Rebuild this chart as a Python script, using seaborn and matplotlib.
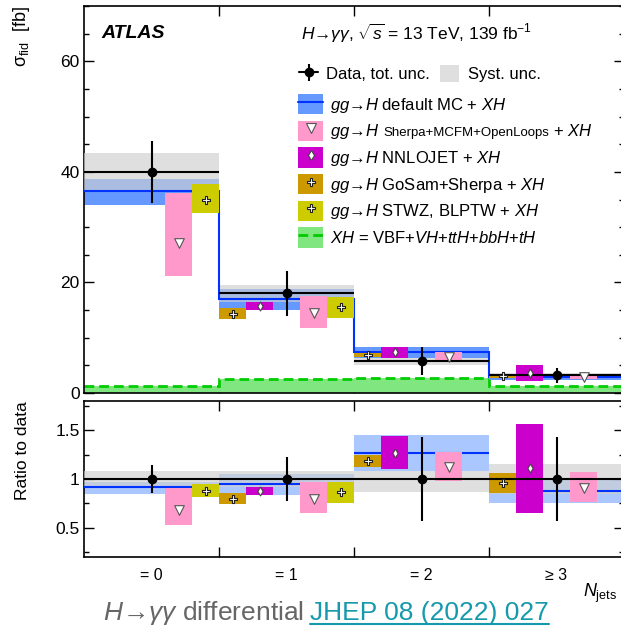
import numpy as np
import matplotlib
matplotlib.use("Agg")
import matplotlib.pyplot as plt
import seaborn as sns
from matplotlib.patches import Patch
from matplotlib.lines import Line2D
from matplotlib.ticker import MultipleLocator, FixedLocator, FuncFormatter, NullLocator

nan = np.nan
# ---------------- data ----------------
categories = ["= 0", "= 1", "= 2", "\u2265 3"]
data_xs = [40.0, 18.0, 5.8, 3.2]
data_tot_unc = [5.6, 4.0, 2.5, 1.38]
syst_up = [3.4, 1.45, 0.5, 0.5]
syst_dn = [3.4, 1.45, 0.8, 0.5]
mc_default = [36.6, 17.0, 7.37, 2.82]
mc_default_lo = [34.0, 15.1, 6.3, 2.4]
mc_default_hi = [38.7, 18.9, 8.4, 3.2]
sherpa = [27.2, 14.4, 6.5, 2.9]
sherpa_lo = [21.2, 11.8, 5.7, 2.46]
sherpa_hi = [36.2, 17.5, 7.4, 3.44]
nnlojet = [nan, 15.8, 7.37, 3.55]
nnlojet_lo = [nan, 15.1, 6.38, 2.1]
nnlojet_hi = [nan, 16.5, 8.35, 5.0]
gosam = [nan, 14.3, 6.85, 3.06]
gosam_lo = [nan, 13.4, 6.5, 2.75]
gosam_hi = [nan, 15.4, 7.2, 3.4]
stwz = [35.0, 15.6, nan, nan]
stwz_lo = [32.5, 13.5, nan, nan]
stwz_hi = [37.8, 17.4, nan, nan]
xh = [1.3, 2.5, 2.65, 1.26]

# ---------------- style ----------------
sns.set_theme(style="ticks")
plt.rcParams.update({
    "font.family": ["Liberation Sans", "DejaVu Sans"],
    "mathtext.fontset": "custom",
    "mathtext.rm": "Liberation Sans",
    "mathtext.it": "Liberation Sans:italic",
    "mathtext.bf": "Liberation Sans:bold",
    "mathtext.sf": "Liberation Sans",
    "axes.edgecolor": "black",
    "axes.linewidth": 1.0,
    "xtick.color": "black", "ytick.color": "black",
    "text.color": "black", "axes.labelcolor": "black",
})

BLUE_BAND = "#6699FF"; BLUE_LINE = "#0033FF"; GRAY = "#CFCFCF"
PINK = "#FF99CC"; MAGENTA = "#CC00CC"; GOLD = "#CC9900"; OLIVE = "#CCCC00"
GREEN_FILL = "#80E680"; GREEN_LINE = "#00CC00"; TEAL = "#169AAB"

W, H = 621, 626
fig = plt.figure(figsize=(W / 100, H / 100), dpi=100)
fig.patch.set_facecolor("white")
ax1 = fig.add_axes([84 / W, 233 / H, 540 / W, 387 / H])
ax2 = fig.add_axes([84 / W, 69 / H, 540 / W, 156 / H])

edges = np.arange(5)
centers = edges[:-1] + 0.5
data = np.array(data_xs)

PRED_SPECS = [
    (gosam, gosam_lo, gosam_hi, 0.1, GOLD, "P", 32, "#222222"),
    (nnlojet, nnlojet_lo, nnlojet_hi, 0.3, MAGENTA, "d", 20, "#444444"),
    (sherpa, sherpa_lo, sherpa_hi, 0.7, PINK, "v", 48, "#555555"),
    (stwz, stwz_lo, stwz_hi, 0.9, OLIVE, "P", 32, "#222222"),
]


def draw_preds(ax, scale):
    for vals, lo, hi, off, col, mk, ms, ec in PRED_SPECS:
        v = np.array(vals) / scale
        l = np.array(lo) / scale
        h = np.array(hi) / scale
        ok = ~np.isnan(v)
        x = edges[:-1][ok] + off
        ax.bar(x, (h - l)[ok], bottom=l[ok], width=0.2, color=col, lw=0, zorder=5)
        sns.scatterplot(x=x, y=v[ok], marker=mk, s=ms, color="white", edgecolor=ec,
                        linewidth=0.8, ax=ax, zorder=8, legend=False)


# ---------------- top panel ----------------
ax1.stairs(xh, edges, fill=True, color=GREEN_FILL, baseline=0, zorder=1)
ax1.stairs(xh, edges, baseline=None, color=GREEN_LINE, lw=2,
           linestyle=(0, (3.5, 1.8)), zorder=1.5)
lo = np.array(mc_default_lo); hi = np.array(mc_default_hi)
ax1.bar(centers, hi - lo, bottom=lo, width=1.0, color=BLUE_BAND, lw=0, zorder=2)
sup = np.array(syst_up); sdn = np.array(syst_dn)
ax1.bar(centers, sup + sdn, bottom=data - sdn, width=1.0, color=GRAY, alpha=0.65, lw=0, zorder=3)
ax1.stairs(mc_default, edges, baseline=None, color=BLUE_LINE, lw=1.5, zorder=4)
draw_preds(ax1, 1.0)
ax1.hlines(data, edges[:-1], edges[1:], color="black", lw=1.5, zorder=6)
eb = ax1.errorbar(centers, data, yerr=data_tot_unc, fmt="o", color="black", ms=6,
                  elinewidth=1.5, capsize=0, zorder=7)

ax1.set_xlim(0, 4)
ax1.set_ylim(0, 70)

# ---------------- ratio panel ----------------
ax2.bar(centers, (hi - lo) / data, bottom=lo / data, width=1.0, color=BLUE_BAND, alpha=0.55, lw=0, zorder=2)
ax2.bar(centers, (sup + sdn) / data, bottom=1 - sdn / data, width=1.0, color=GRAY, alpha=0.65, lw=0, zorder=3)
ax2.hlines(np.array(mc_default) / data, edges[:-1], edges[1:], color=BLUE_LINE, lw=1.5, zorder=4)
draw_preds(ax2, data)
ax2.hlines(1.0, 0, 4, color="black", lw=1.5, zorder=6)
ax2.errorbar(centers, np.ones(4), yerr=np.array(data_tot_unc) / data, fmt="o", color="black",
             ms=6, elinewidth=1.5, capsize=0, zorder=7)
ax2.set_xlim(0, 4)
ax2.set_ylim(0.2, 1.8)

# ---------------- axes / ticks ----------------
for ax in (ax1, ax2):
    ax.set_facecolor("white")
    ax.set_xticks([1, 2, 3])
    ax.set_xticklabels([])
    ax.tick_params(which="both", direction="in", top=True, right=True, width=1)
    ax.tick_params(which="major", length=7)
    ax.tick_params(which="minor", length=3.5)
    ax.tick_params(axis="y", labelsize=12.5, pad=3)
    for s in ax.spines.values():
        s.set_linewidth(1.2)
        s.set_color("black")
    ax.set_xlabel("")

ax1.xaxis.set_minor_locator(NullLocator())
ax1.yaxis.set_major_locator(FixedLocator([0, 20, 40, 60]))
ax1.yaxis.set_minor_locator(MultipleLocator(5))
ax2.yaxis.set_major_locator(FixedLocator([0.5, 1.0, 1.5]))
ax2.yaxis.set_minor_locator(MultipleLocator(0.25))
ax2.yaxis.set_major_formatter(FuncFormatter(lambda v, p: f"{v:g}"))
ax2.set_xticks(centers, minor=True)
ax2.set_xticklabels(categories, minor=True)
ax2.tick_params(axis="x", which="minor", length=0, labelsize=11.5, pad=8)

ax1.set_ylabel(r"$\mathrm{\sigma_{fid}}$  [fb]", loc="top", fontsize=13)
ax1.yaxis.set_label_coords(-0.096, 1.0)
ax2.set_ylabel("Ratio to data", loc="top", fontsize=12.5)
ax2.yaxis.set_label_coords(-0.10, 1.0)

ax1.text(0.033, 0.930, "ATLAS", fontsize=14, fontweight="bold", fontstyle="italic",
         va="center", transform=ax1.transAxes)
ax1.text(0.402, 0.930, r"$H$→$\gamma\gamma$, $\sqrt{s}$ = 13 TeV, 139 fb$^{-1}$",
         fontsize=12.5, va="center", transform=ax1.transAxes)

# ---------------- legends ----------------
h_data = (Line2D([], [], color="black", lw=1.5), eb)
h_syst = Patch(facecolor=GRAY, alpha=0.65, lw=0)
leg1 = ax1.legend([h_data, h_syst], ["Data, tot. unc.", "Syst. unc."], ncol=2,
                  loc="upper left", bbox_to_anchor=(299 / W, 1 - 65.5 / H),
                  bbox_transform=fig.transFigure, frameon=False, fontsize=12,
                  handlelength=1.15, handleheight=1.15, handletextpad=0.5,
                  columnspacing=0.6, borderpad=0, borderaxespad=0)
ax1.add_artist(leg1)


def ph(col, mk, ec, ms):
    return (Patch(facecolor=col, lw=0),
            Line2D([], [], marker=mk, ls="none", mfc="white", mec=ec, ms=ms, mew=0.8))


handles = [
    (Patch(facecolor=BLUE_BAND, lw=0), Line2D([], [], color=BLUE_LINE, lw=1.5)),
    ph(PINK, "v", "#555555", 6.5),
    ph(MAGENTA, "d", "#444444", 5),
    ph(GOLD, "P", "#222222", 5.5),
    ph(OLIVE, "P", "#222222", 5.5),
    (Patch(facecolor=GREEN_FILL, lw=0), Line2D([], [], color=GREEN_LINE, lw=2, linestyle=(0, (3.5, 1.8)))),
]
labels = [
    r"$gg$→$H$ default MC + $XH$",
    r"$gg$→$H$",
    r"$gg$→$H$ NNLOJET + $XH$",
    r"$gg$→$H$ GoSam+Sherpa + $XH$",
    r"$gg$→$H$ STWZ, BLPTW + $XH$",
    r"$XH$ = VBF+$VH$+$ttH$+$bbH$+$tH$",
]
leg2 = ax1.legend(handles, labels, loc="upper left", bbox_to_anchor=(298 / W, 1 - 94 / H),
                  bbox_transform=fig.transFigure, frameon=False, fontsize=12,
                  handlelength=1.5, handleheight=1.5, labelspacing=0.36,
                  handletextpad=0.42, borderpad=0, borderaxespad=0)

# ---------------- figure texts ----------------
fig.text(617 / W, 1 - 593 / H, r"$N_{\mathrm{jets}}$", ha="right", va="center", fontsize=13)
t1 = fig.text(103 / W, 1 - 620 / H, r"$H$→$\gamma\gamma$ differential",
              color="#666666", fontsize=19, va="baseline")

fig.canvas.draw()
r = fig.canvas.get_renderer()

# Sherpa label: smaller middle part
st = leg2.get_texts()[1]
bb = st.get_window_extent(r)
w_, h_, d_ = r.get_text_width_height_descent(st.get_text(), st.get_fontproperties(), ismath=True)
base = bb.y0 + d_
x = bb.x1 + 4
t_s = fig.text(x / W, base / H, "Sherpa+MCFM+OpenLoops", fontsize=9.5, va="baseline")
fig.canvas.draw()
bb2 = t_s.get_window_extent(r)
fig.text((bb2.x1 + 4) / W, base / H, r"+ $XH$", fontsize=12, va="baseline")

# bottom link
bb1 = t1.get_window_extent(r)
t2 = fig.text((bb1.x1 + 6) / W, 1 - 620 / H, "JHEP 08 (2022) 027", color=TEAL,
              fontsize=19, va="baseline")
fig.canvas.draw()
bb3 = t2.get_window_extent(r)
fig.add_artist(Line2D([bb3.x0 / W, bb3.x1 / W], [1 - 624 / H, 1 - 624 / H],
                      color=TEAL, lw=1.5, transform=fig.transFigure))

fig.savefig("out.png", dpi=100, facecolor="white")
